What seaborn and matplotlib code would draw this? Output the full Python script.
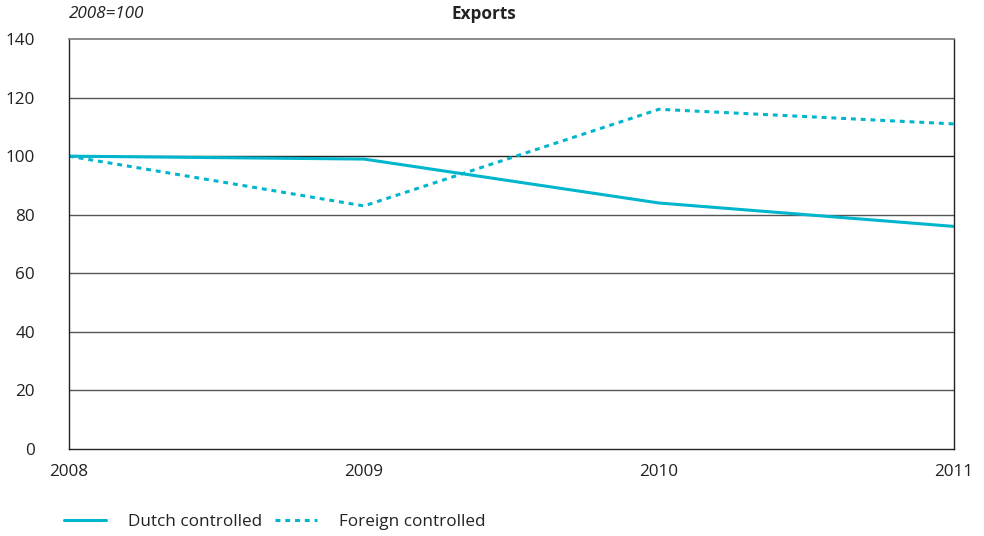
import matplotlib
matplotlib.use("Agg")
import matplotlib.pyplot as plt
from matplotlib.lines import Line2D
import pandas as pd
import seaborn as sns

years = [2008, 2009, 2010, 2011]
dutch = [100, 99, 84, 76]
foreign = [100, 83, 116, 111]
series_names = ["Dutch controlled", "Foreign controlled"]
y_ticks = [0, 20, 40, 60, 80, 100, 120, 140]

df = pd.DataFrame({
    "year": years * 2,
    "value": dutch + foreign,
    "series": [series_names[0]] * 4 + [series_names[1]] * 4,
})

sns.set_style("white")
plt.rcParams["font.family"] = ["Open Sans", "DejaVu Sans"]

color = "#00b5cc"
fs = 12.3
fig = plt.figure(figsize=(9.84, 5.36), dpi=100)
ax = fig.add_axes([69 / 984, 87 / 536, 885 / 984, 410 / 536])

sns.lineplot(data=df, x="year", y="value", style="series", ax=ax,
             color=color, linewidth=2.2,
             dashes={series_names[0]: "", series_names[1]: (1.6, 1.6)},
             legend=False)

ax.set_xlim(2008, 2011)
ax.set_ylim(0, 140)
ax.set_yticks(y_ticks)
ax.set_xticks(years)
ax.set_xlabel("")
ax.set_ylabel("")

# horizontal gridlines, the 100 line a bit darker
for yv in y_ticks[1:-1]:
    ax.axhline(yv, color="#222222" if yv == 100 else "#555555", linewidth=1.0, zorder=0)

for side in ["left", "right", "bottom"]:
    ax.spines[side].set_color("#222222")
    ax.spines[side].set_linewidth(1.0)
ax.spines["top"].set_color("#777777")
ax.spines["top"].set_linewidth(1.2)

ax.tick_params(axis="y", length=0, pad=24.5, labelsize=fs, colors="#222222")
ax.tick_params(axis="x", length=8, width=1, direction="out", pad=3, labelsize=fs, colors="#222222")

fig.text(69 / 984, 1 - 14 / 536, "2008=100", style="italic", fontsize=fs,
         color="#222222", va="center", ha="left")
fig.text(484 / 984, 1 - 14 / 536, "Exports", fontweight="bold", fontsize=fs,
         color="#222222", va="center", ha="center")

handles = [Line2D([], [], color=color, linewidth=2.2),
           Line2D([], [], color=color, linewidth=2.2, linestyle=(0, (1.6, 1.6)))]
fig.legend(handles, series_names, loc="center left",
           bbox_to_anchor=(49 / 984, 1 - 522 / 536), ncol=2, frameon=False,
           fontsize=fs, handlelength=2.45, handletextpad=1.3, columnspacing=0.75,
           labelcolor="#222222")

fig.savefig("out.png", dpi=100)
